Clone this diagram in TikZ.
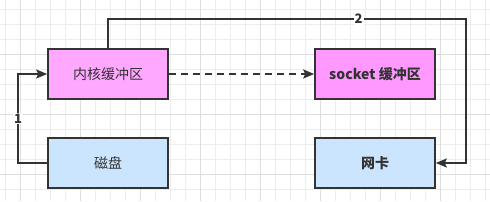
\documentclass[tikz,border=0pt]{standalone}
\usepackage{fontspec}
\newfontfamily\cjk{Noto Sans CJK SC}
\usetikzlibrary{arrows.meta}
\definecolor{pinkbuf}{HTML}{FF99FF}
\definecolor{bluebox}{HTML}{CCE5FF}
\definecolor{edge}{HTML}{333333}
\begin{document}
\begin{tikzpicture}[x=1pt, y=-1pt,
    box/.style={draw=edge, line width=1.6pt, minimum width=120pt, minimum height=50pt, text=edge, font=\cjk\fontsize{14}{16}\selectfont},
    flow/.style={draw=edge, line width=1.6pt, -{Stealth[length=11pt, width=9pt, inset=2pt]}},
    tag/.style={fill=white, inner sep=1pt, font=\cjk\bfseries\fontsize{13}{15}\selectfont, text=edge}]
    \useasboundingbox (0,0) rectangle (490,201);
    % grid
    \foreach \gx in {5.7,20.7,...,490} \draw[black!7, line width=0.6pt] (\gx,0) -- (\gx,201);
    \foreach \gy in {9.3,24.3,...,201} \draw[black!7, line width=0.6pt] (0,\gy) -- (490,\gy);
    \foreach \gx in {20.7,80.7,...,490} \draw[black!13, line width=0.6pt] (\gx,0) -- (\gx,201);
    \foreach \gy in {54.3,114.3,174.3} \draw[black!13, line width=0.6pt] (0,\gy) -- (490,\gy);
    % boxes
    \node[box, fill=pinkbuf!85!white] (kbuf) at (108,74) {内核缓冲区};
    \node[box, fill=bluebox] (disk) at (108,163) {磁盘};
    \node[box, fill=pinkbuf, font=\cjk\bfseries\fontsize{14}{16}\selectfont] (sbuf) at (375,74) {socket 缓冲区};
    \node[box, fill=bluebox, font=\cjk\bfseries\fontsize{14}{16}\selectfont] (nic) at (375,163) {网卡};
    % connectors
    \coordinate (l) at (18,163);
    \coordinate (tl) at (108,19);
    \coordinate (tr) at (466,19);
    \draw[flow] (disk.west) -- (l) -- (l |- kbuf.west) node[tag, pos=0.5] {1} -- (kbuf.west);
    \draw[flow] (kbuf.north) -- (tl) -- (tr) node[tag, pos=0.7] {2} -- (tr |- nic.east) -- (nic.east);
    \draw[flow, dashed, dash pattern=on 7pt off 5pt] (kbuf.east) -- (sbuf.west);
\end{tikzpicture}
\end{document}
